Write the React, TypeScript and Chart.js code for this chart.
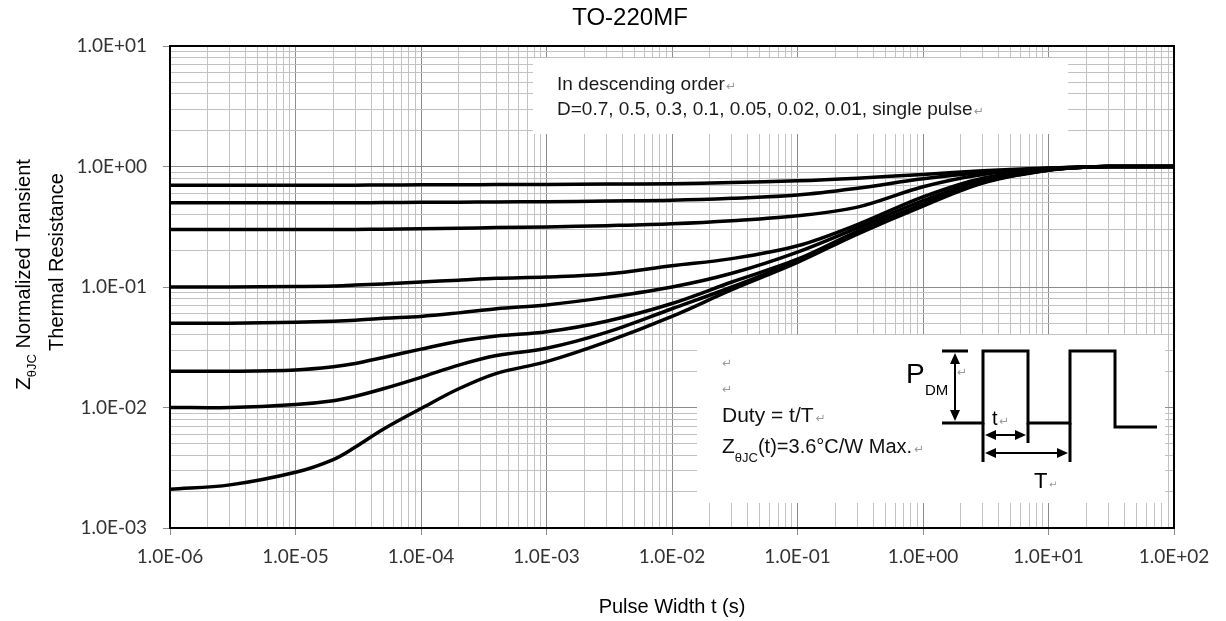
import React, { useEffect, useRef } from "react";
import { Chart, registerables } from "chart.js";

Chart.register(...registerables);

// ---------- data ----------
const chartTitle = "TO-220MF";
const xAxisTitle = "Pulse Width t (s)";
const yTitleLine1Main = "Z";
const yTitleLine1Sub = "θJC";
const yTitleLine1Rest = " Normalized Transient";
const yTitleLine2 = "Thermal Resistance";
const noteLine1 = "In descending order";
const noteLine2 = "D=0.7, 0.5, 0.3, 0.1, 0.05, 0.02, 0.01, single pulse";
const dutyText = "Duty = t/T";
const zText = "(t)=3.6°C/W Max.";

const xMin = 1e-6;
const xMax = 1e2;
const yMin = 1e-3;
const yMax = 1e1;

const pulseWidths = [
  1e-6, 3e-6, 1e-5, 2e-5, 3e-5, 5e-5, 1e-4, 2e-4, 4e-4, 1e-3, 3e-3, 1e-2, 3e-2,
  1e-1, 3e-1, 1, 3, 10, 20, 30, 100,
];

const seriesLabels = ["D=0.7", "D=0.5", "D=0.3", "D=0.1", "D=0.05", "D=0.02", "D=0.01", "single pulse"];

const zD070 = [0.70, 0.70, 0.70, 0.70, 0.70, 0.702, 0.704, 0.706, 0.708, 0.71, 0.715, 0.72, 0.735, 0.76, 0.80, 0.86, 0.92, 0.97, 0.99, 1.0, 1.0];
const zD050 = [0.50, 0.50, 0.50, 0.50, 0.50, 0.502, 0.504, 0.506, 0.508, 0.51, 0.517, 0.525, 0.545, 0.58, 0.66, 0.79, 0.89, 0.965, 0.99, 1.0, 1.0];
const zD030 = [0.30, 0.30, 0.30, 0.30, 0.30, 0.302, 0.305, 0.308, 0.311, 0.315, 0.323, 0.335, 0.355, 0.39, 0.46, 0.68, 0.86, 0.96, 0.99, 1.0, 1.0];
const zD010 = [0.100, 0.100, 0.101, 0.102, 0.104, 0.106, 0.110, 0.114, 0.118, 0.121, 0.128, 0.150, 0.172, 0.22, 0.33, 0.56, 0.80, 0.95, 0.99, 1.0, 1.0];
const zD005 = [0.050, 0.050, 0.051, 0.052, 0.053, 0.055, 0.057, 0.061, 0.066, 0.071, 0.082, 0.100, 0.13, 0.195, 0.31, 0.52, 0.77, 0.94, 0.99, 1.0, 1.0];
const zD002 = [0.020, 0.020, 0.0205, 0.0218, 0.0232, 0.026, 0.0305, 0.0355, 0.0392, 0.0425, 0.052, 0.073, 0.11, 0.17, 0.29, 0.49, 0.75, 0.94, 0.99, 1.0, 1.0];
const zD001 = [0.010, 0.010, 0.0106, 0.0114, 0.0124, 0.0143, 0.0178, 0.0225, 0.027, 0.031, 0.042, 0.066, 0.10, 0.165, 0.28, 0.48, 0.74, 0.935, 0.99, 1.0, 1.0];
const zSingle = [0.0021, 0.00228, 0.0029, 0.0037, 0.0047, 0.0066, 0.0098, 0.0143, 0.0192, 0.024, 0.035, 0.057, 0.095, 0.16, 0.275, 0.47, 0.73, 0.93, 0.99, 1.0, 1.0];

const allSeries = [zD070, zD050, zD030, zD010, zD005, zD002, zD001, zSingle];

// ---------- helpers ----------
const isDecade = (v: number) => {
  const l = Math.log10(v);
  return Math.abs(l - Math.round(l)) < 1e-9;
};
const fmtSci = (v: number) => {
  const e = Math.round(Math.log10(v));
  const sign = e < 0 ? "-" : "+";
  return `1.0E${sign}${String(Math.abs(e)).padStart(2, "0")}`;
};
const logTicks = (min: number, max: number) => {
  const out: { value: number }[] = [];
  const e0 = Math.round(Math.log10(min));
  const e1 = Math.round(Math.log10(max));
  for (let e = e0; e < e1; e++) {
    for (let m = 1; m <= 9; m++) {
      out.push({ value: Number((m * Math.pow(10, e)).toPrecision(12)) });
    }
  }
  out.push({ value: Math.pow(10, e1) });
  return out;
};

const SANS = "'Liberation Sans', Arial, sans-serif";
const TICKFONT = "Lato, 'Open Sans', sans-serif";

const arrowHead = (ctx: CanvasRenderingContext2D, x: number, y: number, dir: "up" | "down" | "left" | "right") => {
  const L = 11;
  const W = 5;
  ctx.beginPath();
  if (dir === "up") {
    ctx.moveTo(x, y); ctx.lineTo(x - W, y + L); ctx.lineTo(x + W, y + L);
  } else if (dir === "down") {
    ctx.moveTo(x, y); ctx.lineTo(x - W, y - L); ctx.lineTo(x + W, y - L);
  } else if (dir === "left") {
    ctx.moveTo(x, y); ctx.lineTo(x + L, y - W); ctx.lineTo(x + L, y + W);
  } else {
    ctx.moveTo(x, y); ctx.lineTo(x - L, y - W); ctx.lineTo(x - L, y + W);
  }
  ctx.closePath();
  ctx.fill();
};

const decorPlugin = {
  id: "decor",
  beforeDatasetsDraw(chart: any) {
    const { ctx, chartArea: a } = chart;
    ctx.save();
    ctx.fillStyle = "#ffffff";
    // legend note box (top)
    ctx.fillRect(a.left + 363, a.top + 12, 535, 76);
    // duty-cycle inset box (bottom right)
    ctx.fillRect(a.left + 527, a.top + 289, 468, 168);
    ctx.restore();
  },
  afterDraw(chart: any) {
    const { ctx, chartArea: a } = chart;
    ctx.save();
    // frame top & right
    ctx.strokeStyle = "#000";
    ctx.lineWidth = 2;
    ctx.beginPath();
    ctx.moveTo(a.left, a.top);
    ctx.lineTo(a.right, a.top);
    ctx.lineTo(a.right, a.bottom);
    ctx.stroke();

    ctx.fillStyle = "#000";
    ctx.textBaseline = "alphabetic";

    // title
    ctx.font = `24px ${SANS}`;
    ctx.textAlign = "center";
    ctx.fillText(chartTitle, 630, 25);

    // x axis title
    ctx.font = `20px ${SANS}`;
    ctx.fillText(xAxisTitle, (a.left + a.right) / 2, 613);

    // y axis title (rotated)
    ctx.save();
    ctx.translate(30, 390);
    ctx.rotate(-Math.PI / 2);
    ctx.textAlign = "left";
    ctx.font = `21px ${SANS}`;
    ctx.fillText(yTitleLine1Main, 0, 0);
    let w = ctx.measureText(yTitleLine1Main).width;
    ctx.font = `13px ${SANS}`;
    ctx.fillText(yTitleLine1Sub, w, 6);
    w += ctx.measureText(yTitleLine1Sub).width;
    ctx.font = `20px ${SANS}`;
    ctx.fillText(yTitleLine1Rest, w, 0);
    ctx.restore();
    ctx.save();
    ctx.translate(63, 262);
    ctx.rotate(-Math.PI / 2);
    ctx.textAlign = "center";
    ctx.font = `20px ${SANS}`;
    ctx.fillText(yTitleLine2, 0, 0);
    ctx.restore();

    // note box text
    const ret = (x: number, y: number, size = 12) => {
      ctx.save();
      ctx.fillStyle = "#9a9a9a";
      ctx.font = `${size}px 'DejaVu Sans', sans-serif`;
      ctx.textAlign = "left";
      ctx.fillText("↵", x, y);
      ctx.restore();
    };
    ctx.textAlign = "left";
    ctx.fillStyle = "#1a1a1a";
    ctx.font = `19px ${SANS}`;
    const nx = a.left + 387;
    ctx.fillText(noteLine1, nx, a.top + 44);
    ret(nx + ctx.measureText(noteLine1).width + 1, a.top + 44);
    ctx.fillText(noteLine2, nx, a.top + 69);
    ret(nx + ctx.measureText(noteLine2).width + 1, a.top + 69);

    // inset text
    ctx.fillStyle = "#111";
    const ix = a.left + 552;
    ret(ix, a.top + 321);
    ret(ix, a.top + 347);
    ctx.font = `21px ${SANS}`;
    ctx.fillText(dutyText, ix, a.top + 376);
    ret(ix + ctx.measureText(dutyText).width + 2, a.top + 376);
    ctx.font = `21px ${SANS}`;
    ctx.fillText("Z", ix, a.top + 407);
    let zw = ctx.measureText("Z").width;
    ctx.font = `13px ${SANS}`;
    ctx.fillText("θJC", ix + zw, a.top + 416);
    zw += ctx.measureText("θJC").width;
    ctx.font = `20px ${SANS}`;
    ctx.fillText(zText, ix + zw, a.top + 407);
    ret(ix + zw + ctx.measureText(zText).width + 2, a.top + 407);

    // pulse diagram
    const px = a.left;
    const py = a.top;
    ctx.strokeStyle = "#000";
    ctx.fillStyle = "#000";
    ctx.lineWidth = 3;
    ctx.lineJoin = "miter";
    ctx.beginPath();
    ctx.moveTo(px + 772, py + 305);
    ctx.lineTo(px + 798, py + 305);
    ctx.stroke();
    ctx.beginPath();
    ctx.moveTo(px + 772, py + 377);
    ctx.lineTo(px + 813, py + 377);
    ctx.lineTo(px + 813, py + 305);
    ctx.lineTo(px + 858, py + 305);
    ctx.lineTo(px + 858, py + 377);
    ctx.lineTo(px + 900, py + 377);
    ctx.lineTo(px + 900, py + 305);
    ctx.lineTo(px + 945, py + 305);
    ctx.lineTo(px + 945, py + 381);
    ctx.lineTo(px + 987, py + 381);
    ctx.stroke();
    // PDM double arrow
    ctx.lineWidth = 2;
    ctx.beginPath();
    ctx.moveTo(px + 785, py + 312);
    ctx.lineTo(px + 785, py + 370);
    ctx.stroke();
    arrowHead(ctx, px + 785, py + 307, "up");
    arrowHead(ctx, px + 785, py + 375, "down");
    // t / T extension lines
    ctx.lineWidth = 3;
    ctx.beginPath();
    ctx.moveTo(px + 813, py + 377);
    ctx.lineTo(px + 813, py + 416);
    ctx.moveTo(px + 858, py + 377);
    ctx.lineTo(px + 858, py + 397);
    ctx.moveTo(px + 900, py + 377);
    ctx.lineTo(px + 900, py + 416);
    ctx.stroke();
    ctx.lineWidth = 2;
    ctx.beginPath();
    ctx.moveTo(px + 820, py + 389);
    ctx.lineTo(px + 851, py + 389);
    ctx.moveTo(px + 820, py + 407);
    ctx.lineTo(px + 893, py + 407);
    ctx.stroke();
    arrowHead(ctx, px + 815, py + 389, "left");
    arrowHead(ctx, px + 856, py + 389, "right");
    arrowHead(ctx, px + 815, py + 407, "left");
    arrowHead(ctx, px + 898, py + 407, "right");
    // labels
    ctx.font = `28px ${SANS}`;
    ctx.fillText("P", px + 736, py + 337);
    ctx.font = `15px ${SANS}`;
    ctx.fillText("DM", px + 755, py + 349);
    ret(px + 787, py + 330);
    ctx.font = `20px ${SANS}`;
    ctx.fillText("t", px + 822, py + 379);
    ret(px + 829, py + 379);
    ctx.font = `22px ${SANS}`;
    ctx.fillText("T", px + 864, py + 442);
    ret(px + 879, py + 442, 10);

    ctx.restore();
  },
};

// ---------- component ----------
export default function App() {
  const canvasRef = useRef<HTMLCanvasElement | null>(null);

  useEffect(() => {
    if (!canvasRef.current) return;
    const datasets = allSeries.map((vals, i) => ({
      label: seriesLabels[i],
      data: pulseWidths.map((t, j) => ({ x: t, y: vals[j] })),
      borderColor: "#000000",
      backgroundColor: "#000000",
      borderWidth: 3.5,
      pointRadius: 0,
      tension: 0.35,
      fill: false,
    }));

    const gridColor = (ctx: any) => (ctx.tick && isDecade(ctx.tick.value) ? "#8c8c8c" : "#c2c2c2");
    const tickColor = (ctx: any) => (ctx.tick && isDecade(ctx.tick.value) ? "#8c8c8c" : "rgba(0,0,0,0)");

    const chart = new Chart(canvasRef.current, {
      type: "line",
      data: { datasets },
      plugins: [decorPlugin],
      options: {
        animation: false,
        responsive: true,
        maintainAspectRatio: false,
        layout: { padding: { left: 0, right: 52, top: 46, bottom: 0 } },
        plugins: {
          legend: { display: false },
          tooltip: { enabled: false },
          title: { display: false },
        },
        scales: {
          x: {
            type: "logarithmic",
            min: xMin,
            max: xMax,
            afterBuildTicks: (scale: any) => {
              scale.ticks = logTicks(xMin, xMax);
            },
            afterFit: (scale: any) => {
              scale.height = 93;
            },
            grid: { color: gridColor, tickColor, lineWidth: 1, tickLength: 7, drawTicks: true },
            border: { color: "#000", width: 2 },
            ticks: {
              autoSkip: false,
              maxRotation: 0,
              minRotation: 0,
              padding: 10,
              color: "#333",
              font: { family: TICKFONT, size: 19 },
              callback: (v: any) => (isDecade(Number(v)) ? fmtSci(Number(v)) : ""),
            },
          },
          y: {
            type: "logarithmic",
            min: yMin,
            max: yMax,
            afterBuildTicks: (scale: any) => {
              scale.ticks = logTicks(yMin, yMax);
            },
            afterFit: (scale: any) => {
              scale.width = 170;
            },
            grid: { color: gridColor, tickColor, lineWidth: 1, tickLength: 7, drawTicks: true },
            border: { color: "#000", width: 2 },
            ticks: {
              autoSkip: false,
              padding: 16,
              color: "#333",
              font: { family: TICKFONT, size: 19 },
              callback: (v: any) => (isDecade(Number(v)) ? fmtSci(Number(v)) : ""),
            },
          },
        },
      },
    });
    return () => chart.destroy();
  }, []);

  return (
    <div style={{ position: "fixed", left: 0, top: 0, width: 1226, height: 621, background: "#fff" }}>
      <canvas ref={canvasRef} />
    </div>
  );
}
